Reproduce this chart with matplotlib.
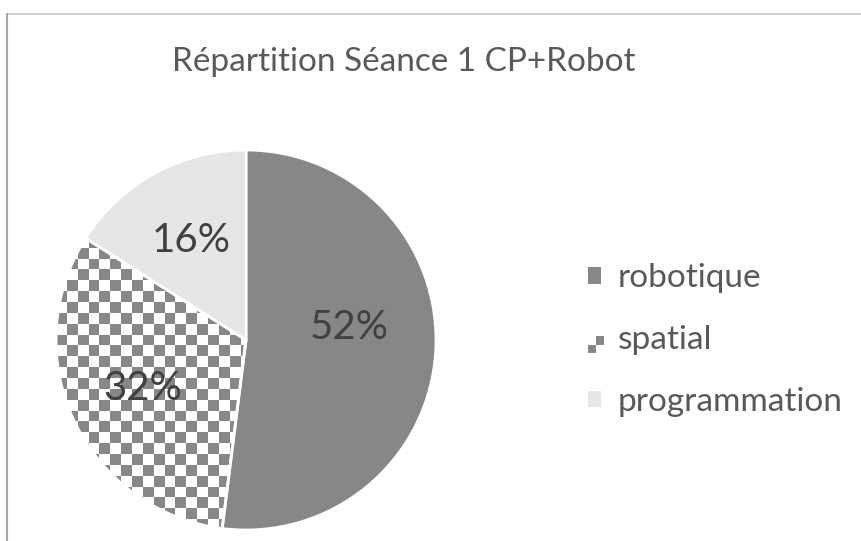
import numpy as np
import matplotlib
matplotlib.use("Agg")
import matplotlib.pyplot as plt
from matplotlib.patches import Rectangle
from matplotlib.legend_handler import HandlerBase
from matplotlib.lines import Line2D

# ---- data ----
categories = ["robotique", "spatial", "programmation"]
shares = [52, 32, 16]
title = "Répartition Séance 1 CP+Robot"

colors = ["#878787", "none", "#e6e6e6"]
text_grey = "#595959"
label_grey = "#404040"

plt.rcParams["font.family"] = ["Lato", "DejaVu Sans"]

W, H = 861, 541
fig = plt.figure(figsize=(W / 100, H / 100), dpi=100)

# chart area border (top + left, as in the cropped screenshot)
fig.add_artist(Line2D([7 / W, 1], [1 - 14 / H] * 2, color="#c8c8c8", lw=1.2))
fig.add_artist(Line2D([7 / W] * 2, [0, 1 - 14 / H], color="#a8a8a8", lw=1.5))

# pie axes placed in pixels: centre (246, 340), radius 190
cx, cy, r = 246, 340, 190
ax = fig.add_axes([(cx - r) / W, 1 - (cy + r) / H, 2 * r / W, 2 * r / H])

wedges, _, autotexts = ax.pie(
    shares, colors=colors, startangle=90, counterclock=False, radius=1,
    autopct="%1.0f%%", pctdistance=0.6,
    wedgeprops=dict(edgecolor="white", linewidth=2, zorder=2),
    textprops=dict(fontsize=29, color=label_grey))
for t in autotexts:
    t.set_zorder(5)
# Excel puts the big slice's label a bit higher and closer in
w0 = wedges[0]
a = np.deg2rad((w0.theta1 + w0.theta2) / 2 + 10.5)
autotexts[0].set_position((0.55 * np.cos(a), 0.55 * np.sin(a)))
ax.set_xlim(-1, 1); ax.set_ylim(-1, 1); ax.set_aspect("equal"); ax.axis("off")

# checkerboard fill for "spatial"
n = 35
checker = (np.add.outer(np.arange(n), np.arange(n)) % 2).astype(float)
im = ax.imshow(checker, extent=[-1, 1, -1, 1], cmap=matplotlib.colors.ListedColormap(["white", "#878787"]),
               interpolation="nearest", zorder=1)
im.set_clip_path(wedges[1])
ax.set_xlim(-1, 1); ax.set_ylim(-1, 1)


class CheckerHandler(HandlerBase):
    def create_artists(self, legend, orig, xd, yd, w, h, fs, trans):
        s = h / 2
        out = []
        for i in range(2):
            for j in range(2):
                c = "#878787" if (i + j) % 2 == 0 else "white"
                out.append(Rectangle((xd + i * s, yd + j * s), s, s, facecolor=c,
                                     edgecolor="none", transform=trans))
        return out


handles = [Rectangle((0, 0), 1, 1, facecolor="#878787"),
           Rectangle((0, 0), 1, 1, facecolor="white"),
           Rectangle((0, 0), 1, 1, facecolor="#e6e6e6")]
fig.legend(handles, categories, loc="center left", bbox_to_anchor=(588 / W, 1 - 340 / H),
           frameon=False, fontsize=24, labelcolor=text_grey, borderpad=0, borderaxespad=0,
           handlelength=0.38, handleheight=0.38, handletextpad=0.5, labelspacing=0.95,
           handler_map={handles[1]: CheckerHandler()})

fig.text(404 / W, 1 - 62 / H, title, ha="center", va="center", fontsize=24, color=text_grey)

fig.savefig("out.png", dpi=100)
